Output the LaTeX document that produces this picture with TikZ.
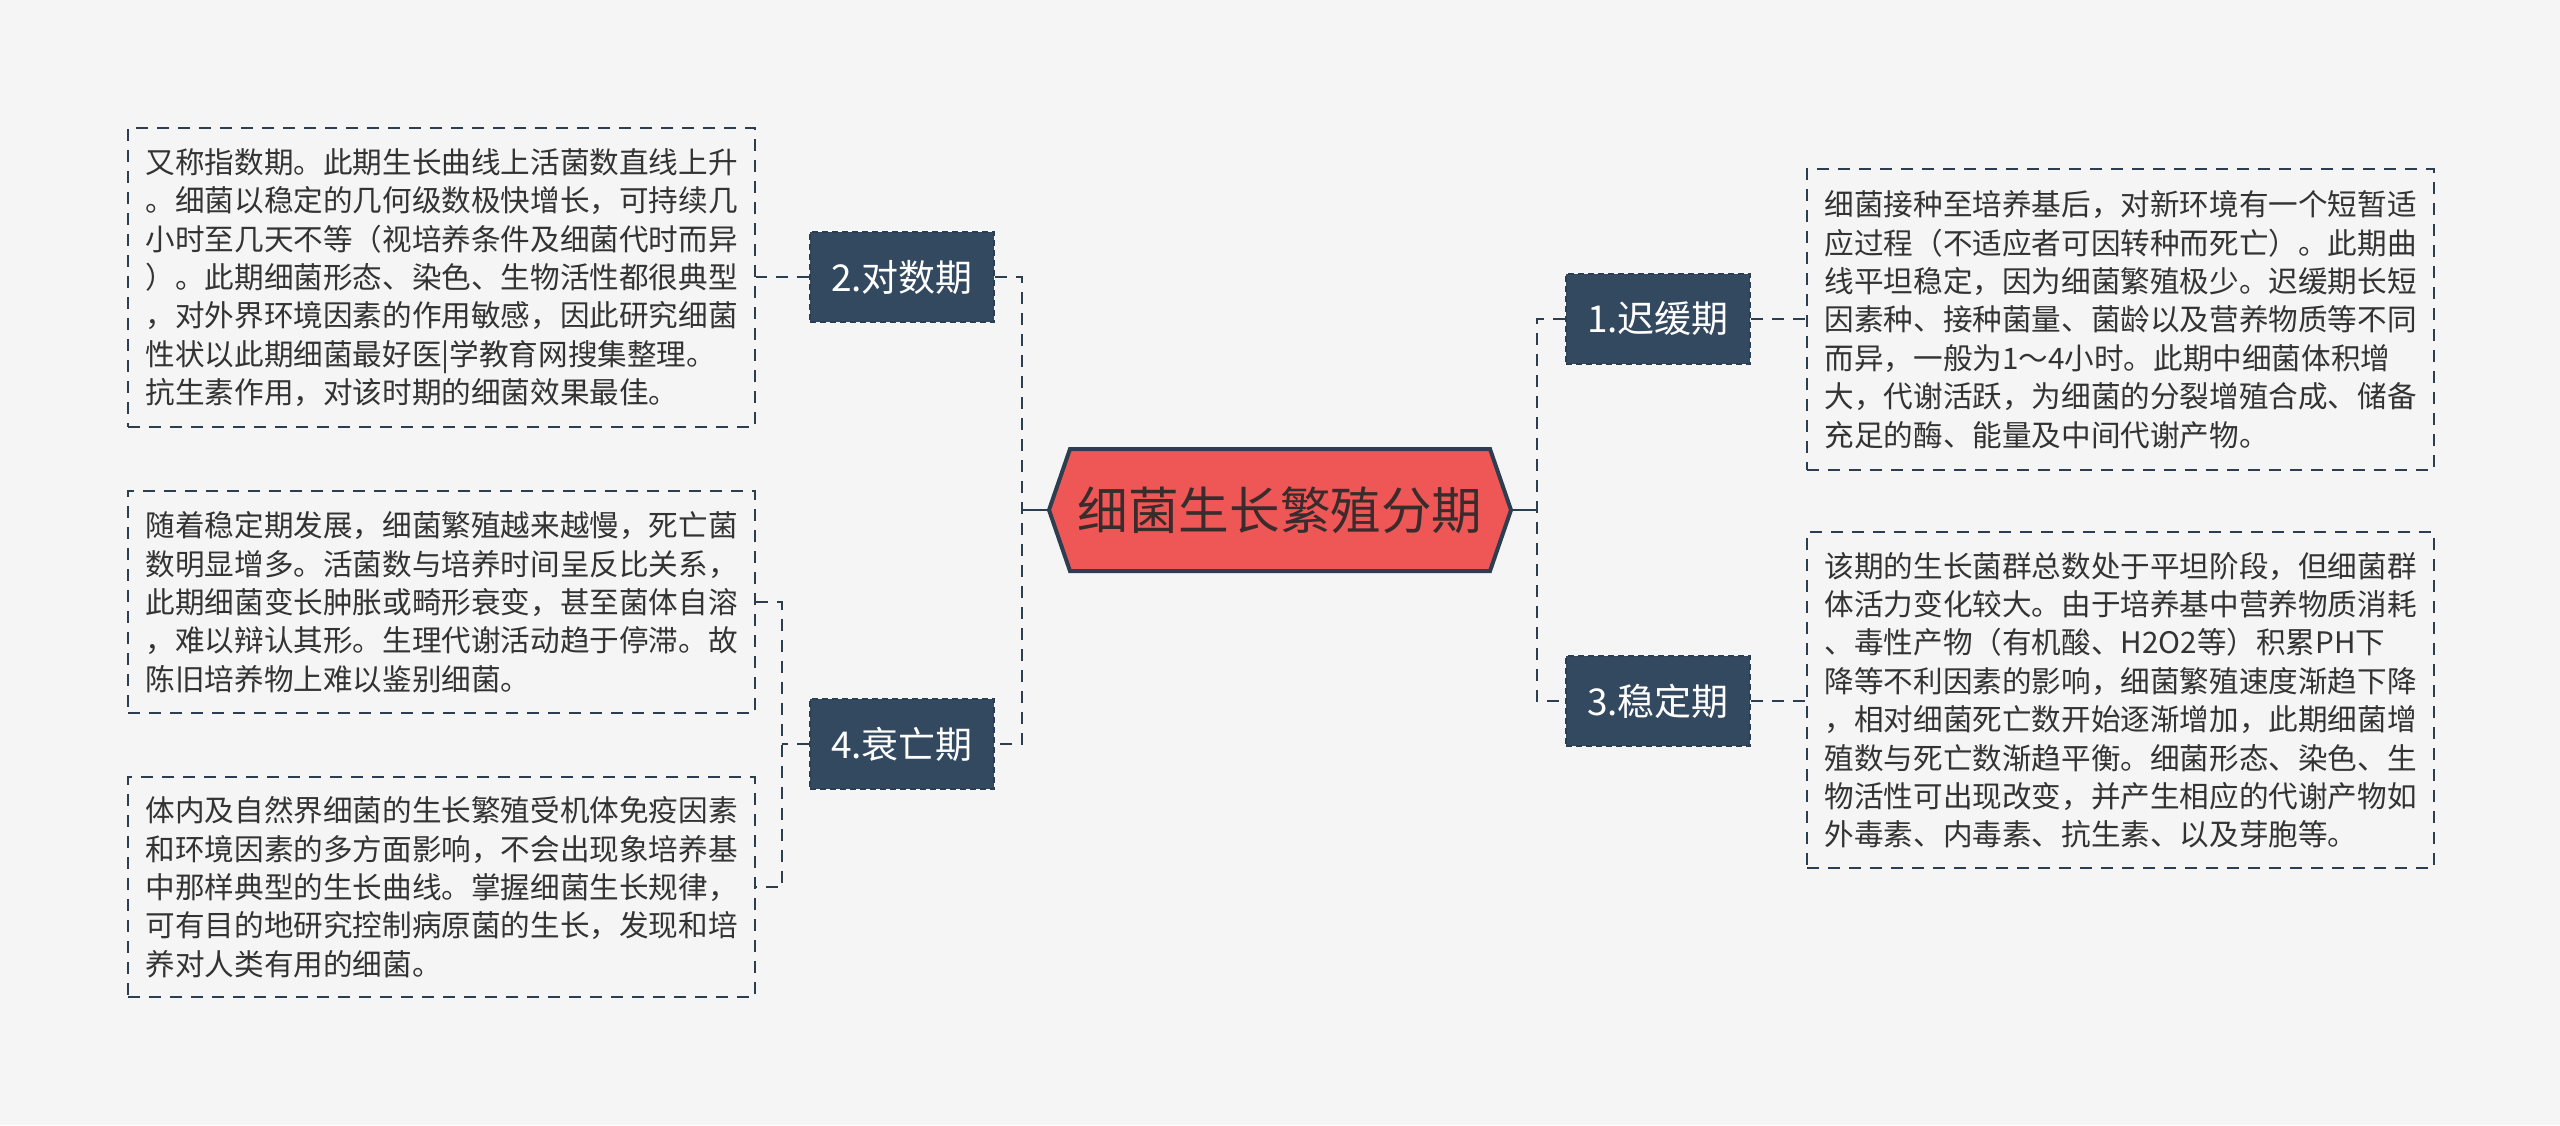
\documentclass[tikz,border=0pt]{standalone}
\usepackage{fontspec}
\setmainfont{Noto Sans CJK SC}
\definecolor{bg}{HTML}{F5F5F5}
\definecolor{slate}{HTML}{2D3E50}
\definecolor{branchfill}{HTML}{324960}
\definecolor{rootred}{HTML}{EF5656}
\definecolor{roottext}{HTML}{3A2C2C}
\definecolor{bodytext}{HTML}{333333}
\begin{document}
\begin{tikzpicture}[x=0.5pt,y=-0.5pt,
  leaf/.style={draw=slate, dash pattern=on 6pt off 4.5pt, line width=1.2pt,
    text=bodytext, font=\fontsize{14.8}{19.2}\selectfont, align=left,
    text width=296pt, inner xsep=8.75pt, inner ysep=0pt, anchor=north west},
  branch/.style={fill=branchfill, draw=slate, dash pattern=on 3pt off 2pt, line width=1pt,
    text=white, font=\fontsize{18.5}{22}\selectfont, minimum width=92pt, minimum height=45pt,
    inner sep=0pt},
  conn/.style={draw=slate, line width=1.25pt, dash pattern=on 6pt off 4.5pt},
  solidconn/.style={draw=slate, line width=1.25pt}
]
\fill[bg] (0,0) rectangle (2560,1125);
\useasboundingbox (0,0) rectangle (2560,1125);

% central hexagon
\coordinate (rootL) at (1049,510);
\coordinate (rootR) at (1511,510);
\draw[fill=rootred, draw=slate, line width=2pt, line join=miter]
  (rootL) -- (1070,449) -- (1490,449) -- (rootR) -- (1490,571) -- (1070,571) -- cycle;
\node[text=roottext, font=\fontsize{25.3}{30}\selectfont, inner sep=0pt] (root) at (1280,510) {细菌生长繁殖分期};

% branch nodes
\node[branch] (n2) at (902,277) {2.对数期};
\node[branch] (n4) at (902,744) {4.衰亡期};
\node[branch] (n1) at (1658,319) {1.迟缓期};
\node[branch] (n3) at (1658,701) {3.稳定期};

% leaf boxes
\node[leaf, minimum height=149.5pt] (boxA) at (127,127) {又称指数期。此期生长曲线上活菌数直线上升\\。细菌以稳定的几何级数极快增长，可持续几\\小时至几天不等（视培养条件及细菌代时而异\\）。此期细菌形态、染色、生物活性都很典型\\，对外界环境因素的作用敏感，因此研究细菌\\性状以此期细菌最好医|学教育网搜集整理。\\抗生素作用，对该时期的细菌效果最佳。};
\node[leaf, minimum height=111pt] (boxB) at (127,490) {随着稳定期发展，细菌繁殖越来越慢，死亡菌\\数明显增多。活菌数与培养时间呈反比关系，\\此期细菌变长肿胀或畸形衰变，甚至菌体自溶\\，难以辩认其形。生理代谢活动趋于停滞。故\\陈旧培养物上难以鉴别细菌。};
\node[leaf, minimum height=110pt] (boxC) at (127,776) {体内及自然界细菌的生长繁殖受机体免疫因素\\和环境因素的多方面影响，不会出现象培养基\\中那样典型的生长曲线。掌握细菌生长规律，\\可有目的地研究控制病原菌的生长，发现和培\\养对人类有用的细菌。};
\node[leaf, minimum height=150.5pt] (boxD) at (1806,168) {细菌接种至培养基后，对新环境有一个短暂适\\应过程（不适应者可因转种而死亡）。此期曲\\线平坦稳定，因为细菌繁殖极少。迟缓期长短\\因素种、接种菌量、菌龄以及营养物质等不同\\而异，一般为1～4小时。此期中细菌体积增\\大，代谢活跃，为细菌的分裂增殖合成、储备\\充足的酶、能量及中间代谢产物。};
\node[leaf, minimum height=168pt] (boxE) at (1806,531) {该期的生长菌群总数处于平坦阶段，但细菌群\\体活力变化较大。由于培养基中营养物质消耗\\、毒性产物（有机酸、H2O2等）积累PH下\\降等不利因素的影响，细菌繁殖速度渐趋下降\\，相对细菌死亡数开始逐渐增加，此期细菌增\\殖数与死亡数渐趋平衡。细菌形态、染色、生\\物活性可出现改变，并产生相应的代谢产物如\\外毒素、内毒素、抗生素、以及芽胞等。};

% trunks
\coordinate (ltrunk) at (1022,510);
\coordinate (rtrunk) at (1537,510);
\coordinate (btrunk) at (782,744);

\draw[solidconn] (rootL) -- (ltrunk);
\draw[solidconn] (rootR) -- (rtrunk);
\draw[conn] (n2.east) -| (ltrunk) |- (n4.east);
\draw[conn] (n1.west) -| (rtrunk) |- (n3.west);
\draw[conn] (n2.west) -- (n2.west -| boxA.east);
\draw[conn] (n4.west) -- (btrunk);
\draw[conn] (boxB.east) -| (btrunk) |- (boxC.east);
\draw[conn] (n1.east) -- (n1.east -| boxD.west);
\draw[conn] (n3.east) -- (n3.east -| boxE.west);
\end{tikzpicture}
\end{document}
